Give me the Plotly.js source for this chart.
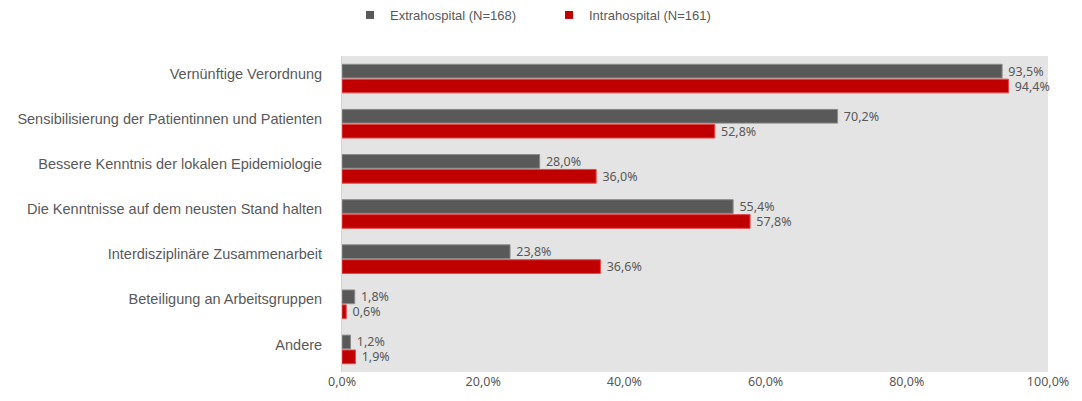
<!DOCTYPE html>
<html><head><meta charset="utf-8">
<script src="https://cdn.plot.ly/plotly-3.0.1.min.js"></script>
<style>html,body{margin:0;padding:0;background:#fff}</style>
</head><body>
<div id="chart" style="width:1082px;height:401px"></div>
<script>
const categories = [
  "Vernünftige Verordnung",
  "Sensibilisierung der Patientinnen und Patienten",
  "Bessere Kenntnis der lokalen Epidemiologie",
  "Die Kenntnisse auf dem neusten Stand halten",
  "Interdisziplinäre Zusammenarbeit",
  "Beteiligung an Arbeitsgruppen",
  "Andere"
];
const extraName = "Extrahospital (N=168)";
const intraName = "Intrahospital (N=161)";
const extraValues = [93.5, 70.2, 28.0, 55.4, 23.8, 1.8, 1.2];
const intraValues = [94.4, 52.8, 36.0, 57.8, 36.6, 0.6, 1.9];
const xTickVals = [0, 20, 40, 60, 80, 100];
const xTickText = xTickVals.map(v => v.toFixed(1).replace(".", ",") + "%");

const extraColor = "#595959", intraColor = "#C00000";
const labelFont = {family: "Noto Sans, Open Sans, sans-serif", size: 12.5, color: "#595959"};
const traces = [
  {type: "bar", orientation: "h", name: extraName, y: categories, x: extraValues,
   marker: {color: extraColor, line: {color: "#8a8a8a", width: 1}}, showlegend: false,
   texttemplate: "\u00a0%{x:.1f}%", textposition: "outside", constraintext: "none",
   textfont: labelFont, outsidetextfont: labelFont, cliponaxis: false, hoverinfo: "skip"},
  {type: "bar", orientation: "h", name: intraName, y: categories, x: intraValues,
   marker: {color: intraColor, line: {color: "#e04a4a", width: 1}}, showlegend: false,
   texttemplate: "\u00a0%{x:.1f}%", textposition: "outside", constraintext: "none",
   textfont: labelFont, outsidetextfont: labelFont, cliponaxis: false, hoverinfo: "skip"},
  {type: "scatter", mode: "markers", name: extraName, x: [null], y: [null],
   marker: {symbol: "square", size: 8, color: extraColor}, showlegend: true, hoverinfo: "skip"},
  {type: "scatter", mode: "markers", name: intraName, x: [null], y: [null],
   marker: {symbol: "square", size: 8, color: intraColor}, showlegend: true, hoverinfo: "skip"}
];
const layout = {
  width: 1082, height: 401,
  margin: {l: 342, r: 34, t: 56, b: 29, autoexpand: false},
  paper_bgcolor: "#ffffff",
  plot_bgcolor: "#E4E4E4",
  separators: ",.",
  barmode: "group",
  bargap: 0.34,
  bargroupgap: 0.08,
  font: {family: "Liberation Sans, Arial, sans-serif", color: "#595959"},
  xaxis: {range: [0, 100], tickmode: "array", tickvals: xTickVals, ticktext: xTickText,
          showgrid: false, zeroline: false, showline: false, fixedrange: true,
          tickfont: {family: "Noto Sans, Open Sans, sans-serif", size: 12.5, color: "#595959"}},
  yaxis: {autorange: "reversed", showgrid: false, zeroline: false, ticks: "",
          showline: true, linecolor: "#d4d4d4", linewidth: 1,
          ticklabelstandoff: 16, ticklabelshift: 5,
          tickfont: {family: "Liberation Sans, Arial, sans-serif", size: 14.5, color: "#595959"}},
  showlegend: true,
  legend: {orientation: "h", xref: "container", yref: "container",
           x: 350/1082, xanchor: "left", y: 1 - 15/401, yanchor: "middle",
           entrywidth: 154, entrywidthmode: "pixels", itemwidth: 30,
           font: {family: "Liberation Sans, Arial, sans-serif", size: 13, color: "#595959"}}
};
Plotly.newPlot("chart", traces, layout, {displayModeBar: false, staticPlot: true});
</script>
</body></html>
